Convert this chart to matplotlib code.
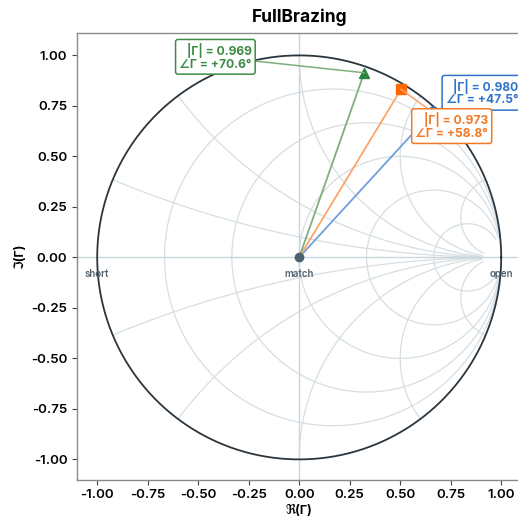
import numpy as np
import matplotlib
matplotlib.use("Agg")
import matplotlib.pyplot as plt

plt.rcParams['font.family'] = ['Inter', 'DejaVu Sans']

# Reflection coefficients: magnitude and angle (degrees)
labels = ["blue", "orange", "green"]
gamma_mag = [0.980, 0.973, 0.969]
gamma_deg = [47.5, 58.8, 70.6]
markers = ["o", "s", "^"]
marker_sizes = [6.5, 7.5, 6.5]
mark_colors = ["#2f6fc4", "#ff6a00", "#2e8540"]
line_colors = ["#6f9fdc", "#ffa468", "#7fae7f"]
text_colors = ["#2f74c8", "#f07a25", "#3d8b45"]
box_centers = [(0.905, 0.815), (0.755, 0.650), (-0.415, 0.993)]

# Smith chart grid values
r_values = [0.2, 0.5, 1.0, 2.0, 5.0]
x_values = [0.2, 0.5, 1.0, 2.0, 5.0]
r_max = 20.0
x_max = 20.0

ticks = [-1.0, -0.75, -0.5, -0.25, 0.0, 0.25, 0.5, 0.75, 1.0]
xlim = (-1.1, 1.1)
ylim = (-1.0995, 1.1109)

W, H = 518, 522
ppu = 202.0  # pixels per data unit, same on both axes
fig = plt.figure(figsize=(W / 100, H / 100), dpi=100)
ax_w = (xlim[1] - xlim[0]) * ppu
ax_h = (ylim[1] - ylim[0]) * ppu
ax = fig.add_axes([77 / W, 42.5 / H, ax_w / W, ax_h / H])

grid_c = "#d6dee3"


def z_to_gamma(z):
    return (z - 1) / (z + 1)


# constant-resistance circles
t = np.linspace(-np.arcsinh(x_max), np.arcsinh(x_max), 1200)
xs = np.sinh(t)
for r in r_values:
    g = z_to_gamma(r + 1j * xs)
    ax.plot(g.real, g.imag, color=grid_c, lw=0.9, zorder=1)

# constant-reactance arcs
s = np.linspace(0, np.arcsinh(r_max), 1200)
rs = np.sinh(s)
for xv in x_values:
    for sign in (1, -1):
        g = z_to_gamma(rs + 1j * sign * xv)
        ax.plot(g.real, g.imag, color=grid_c, lw=0.9, zorder=1)

# real / imaginary axes
ax.axhline(0, color="#c9d4db", lw=1.0, zorder=1)
ax.axvline(0, color="#c9d4db", lw=1.0, zorder=1)

# unit circle
th = np.linspace(0, 2 * np.pi, 720)
ax.plot(np.cos(th), np.sin(th), color="#2b353d", lw=1.3, zorder=3)

# reference points
ax.plot([0], [0], "o", color="#4d6270", ms=6, zorder=6)
for px, name in [(-1, "short"), (0, "match"), (1, "open")]:
    ax.annotate(name, (px, 0), xytext=(0, -8.5), textcoords="offset points",
                ha="center", va="top", fontsize=7, fontweight="semibold",
                color="#52616c", zorder=7)

for mag, deg, mk, ms, mc, lc, tc, ctr in zip(gamma_mag, gamma_deg, markers,
                                             marker_sizes, mark_colors,
                                             line_colors, text_colors,
                                             box_centers):
    gx = mag * np.cos(np.deg2rad(deg))
    gy = mag * np.sin(np.deg2rad(deg))
    ax.plot([0, gx], [0, gy], color=lc, lw=1.3, zorder=4)
    ax.plot([gx], [gy], marker=mk, color=mc, ms=ms, ls="none", zorder=6)
    ax.annotate(f"|Γ| = {mag:.3f}\n∠Γ = {deg:+.1f}°", xy=(gx, gy), xytext=ctr,
                textcoords="data", ha="center", va="center",
                multialignment="right", fontsize=8.7,
                fontweight="bold", color=tc, linespacing=1.05,
                bbox=dict(boxstyle="round,pad=0.3,rounding_size=0.2",
                          fc="white", ec=tc, lw=1.1),
                arrowprops=dict(arrowstyle="-", color=lc, lw=1.1,
                                shrinkA=0, shrinkB=0),
                zorder=8, annotation_clip=False)

ax.set_xlim(*xlim)
ax.set_ylim(*ylim)
ax.set_xticks(ticks)
ax.set_yticks(ticks)
ax.set_xticklabels([f"{v:.2f}" for v in ticks])
ax.set_yticklabels([f"{v:.2f}" for v in ticks])
ax.tick_params(labelsize=9.6, length=3.5, width=0.8, color="#444444")
for lab in ax.get_xticklabels() + ax.get_yticklabels():
    lab.set_fontweight("semibold")
for sp in ax.spines.values():
    sp.set_color("#8a8a8a")
    sp.set_linewidth(1.0)

ax.set_xlabel("ℜ(Γ)", fontsize=9, fontweight="bold", labelpad=3)
ax.set_ylabel("ℑ(Γ)", fontsize=9, fontweight="bold", labelpad=3)
ax.set_title("FullBrazing", fontsize=12.5, fontweight="bold", pad=8)

fig.savefig("out.png", dpi=100)
